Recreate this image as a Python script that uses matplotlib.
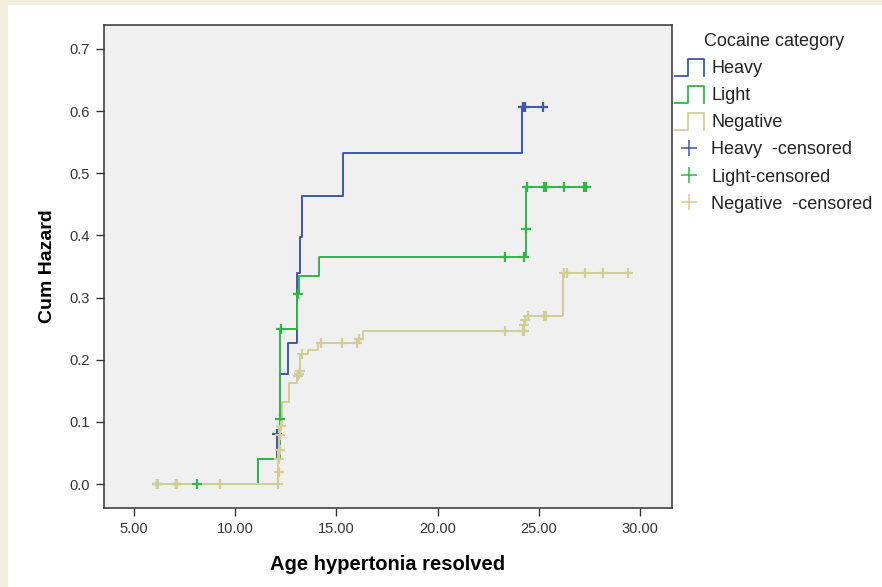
import matplotlib
matplotlib.use("Agg")
import matplotlib.pyplot as plt
from matplotlib.legend_handler import HandlerBase
from matplotlib.lines import Line2D
from matplotlib.patches import Rectangle

plt.rcParams["font.family"] = ["Liberation Sans", "DejaVu Sans"]

# Cumulative hazard steps (time, value) per cocaine category
heavy_t = [6.12, 11.14, 12.05, 12.2, 12.62, 13.04, 13.2, 13.28, 15.34, 24.15, 25.19]
heavy_h = [0.0, 0.041, 0.080, 0.177, 0.227, 0.339, 0.398, 0.463, 0.533, 0.606, 0.606]
heavy_cens_t = [12.05, 24.22, 24.32, 25.19]
heavy_cens_h = [0.080, 0.606, 0.606, 0.606]

light_t = [6.12, 11.14, 12.19, 12.21, 13.04, 13.15, 14.14, 24.35, 24.38, 27.32]
light_h = [0.0, 0.041, 0.104, 0.250, 0.305, 0.335, 0.366, 0.410, 0.478, 0.478]
light_cens_t = [6.12, 7.07, 8.13, 12.19, 12.25, 13.1, 23.33, 24.28, 24.36,
                24.42, 25.25, 25.35, 26.25, 27.22, 27.32]
light_cens_h = [0.0, 0.0, 0.0, 0.104, 0.250, 0.305, 0.366, 0.366, 0.410,
                0.478, 0.478, 0.478, 0.478, 0.478, 0.478]

neg_t = [6.12, 12.1, 12.12, 12.14, 12.16, 12.18, 12.3, 12.67, 13.04, 13.1, 13.14,
         13.2, 13.61, 14.1, 16.08, 16.33, 24.26, 24.28, 24.3, 26.21, 29.42]
neg_h = [0.0, 0.020, 0.040, 0.055, 0.079, 0.093, 0.132, 0.162, 0.173, 0.177, 0.182,
         0.210, 0.216, 0.227, 0.233, 0.247, 0.256, 0.264, 0.270, 0.340, 0.340]
neg_cens_t = [6.12, 6.2, 7.07, 7.15, 9.25, 12.14, 12.16, 12.18, 12.2, 12.22,
              12.24, 13.12, 13.14, 13.18, 13.28, 14.22, 15.26, 16.0, 16.1, 23.33,
              24.2, 24.26, 24.28, 24.3, 24.48, 25.25, 25.35, 26.25, 26.4, 27.28,
              28.19, 29.42]
neg_cens_h = [0.0, 0.0, 0.0, 0.0, 0.0, 0.0, 0.020, 0.040, 0.055, 0.079,
              0.093, 0.173, 0.177, 0.182, 0.210, 0.227, 0.227, 0.227, 0.233, 0.247,
              0.247, 0.247, 0.256, 0.264, 0.270, 0.270, 0.270, 0.340, 0.340, 0.340,
              0.340, 0.340]

x_ticks = [5, 10, 15, 20, 25, 30]
y_ticks = [0.0, 0.1, 0.2, 0.3, 0.4, 0.5, 0.6, 0.7]

BLUE = "#3e58ac"
GREEN = "#2eb848"
BEIGE = "#d3ce97"


class HandlerStep(HandlerBase):
    """Square-pulse legend icon like SPSS survival plots."""

    def create_artists(self, legend, orig_handle, xdescent, ydescent,
                       width, height, fontsize, trans):
        x0, x1 = -xdescent, -xdescent + width
        y0, y1 = -ydescent - 0.2 * height, -ydescent + 1.1 * height
        xm = x0 + 0.45 * width
        line = Line2D([x0, xm, xm, x1, x1], [y0, y0, y1, y1, y0],
                      color=orig_handle.get_color(), lw=1.3, transform=trans)
        return [line]


fig = plt.figure(figsize=(8.82, 5.87), dpi=100)
fig.patch.set_facecolor("white")
# beige frame strips on left and top
fig.patches.append(Rectangle((0, 0), 8 / 882, 1, transform=fig.transFigure,
                             facecolor="#f2efdf", edgecolor="none", zorder=-5))
fig.patches.append(Rectangle((0, 1 - 5 / 587), 1, 5 / 587, transform=fig.transFigure,
                             facecolor="#f2efdf", edgecolor="none", zorder=-5))

ax = fig.add_axes([104 / 882, 1 - 508 / 587, 568 / 882, 483 / 587])
ax.set_facecolor("#f0f0f0")

lw = 1.4
h_line, = ax.step(heavy_t, heavy_h, where="post", color=BLUE, lw=lw)
l_line, = ax.step(light_t, light_h, where="post", color=GREEN, lw=lw)
n_line, = ax.step(neg_t, neg_h, where="post", color=BEIGE, lw=lw)

ms, mew = 7, 1.6
ax.plot(heavy_cens_t, heavy_cens_h, "+", color=BLUE, ms=ms, mew=mew)
ax.plot(light_cens_t, light_cens_h, "+", color=GREEN, ms=ms, mew=mew)
ax.plot(neg_cens_t, neg_cens_h, "+", color=BEIGE, ms=ms, mew=mew)

ax.set_xlim(3.52, 31.58)
ax.set_ylim(-0.0386, 0.7386)
ax.set_xticks(x_ticks)
ax.set_xticklabels([f"{v:.2f}" for v in x_ticks])
ax.set_yticks(y_ticks)
ax.set_yticklabels([f"{v:.1f}" for v in y_ticks])
ax.tick_params(direction="out", length=6, width=1, colors="#333333",
               labelsize=10.5, pad=4)
for s in ax.spines.values():
    s.set_color("#333333")
    s.set_linewidth(1.1)

ax.set_xlabel("Age hypertonia resolved", fontsize=14.5, fontweight="bold",
              labelpad=14)
ax.set_ylabel("Cum Hazard", fontsize=14, fontweight="bold", labelpad=10)

cens_h = Line2D([], [], ls="none", marker="+", color=BLUE, ms=12, mew=1.1)
cens_l = Line2D([], [], ls="none", marker="+", color=GREEN, ms=12, mew=1.1)
cens_n = Line2D([], [], ls="none", marker="+", color=BEIGE, ms=12, mew=1.1)

leg = fig.legend(
    [h_line, l_line, n_line, cens_h, cens_l, cens_n],
    ["Heavy", "Light", "Negative", "Heavy  -censored", "Light-censored",
     "Negative  -censored"],
    title="Cocaine category",
    loc="upper left",
    bbox_to_anchor=(675 / 882, 1 - 33 / 587),
    frameon=False,
    fontsize=13,
    title_fontsize=13,
    handlelength=1.6,
    handletextpad=0.4,
    labelspacing=0.56,
    borderpad=0,
    borderaxespad=0,
    handler_map={h_line: HandlerStep(), l_line: HandlerStep(), n_line: HandlerStep()},
)
for t in leg.get_texts():
    t.set_color("#222222")
leg.get_title().set_color("#222222")

fig.savefig("out.png", dpi=100)
